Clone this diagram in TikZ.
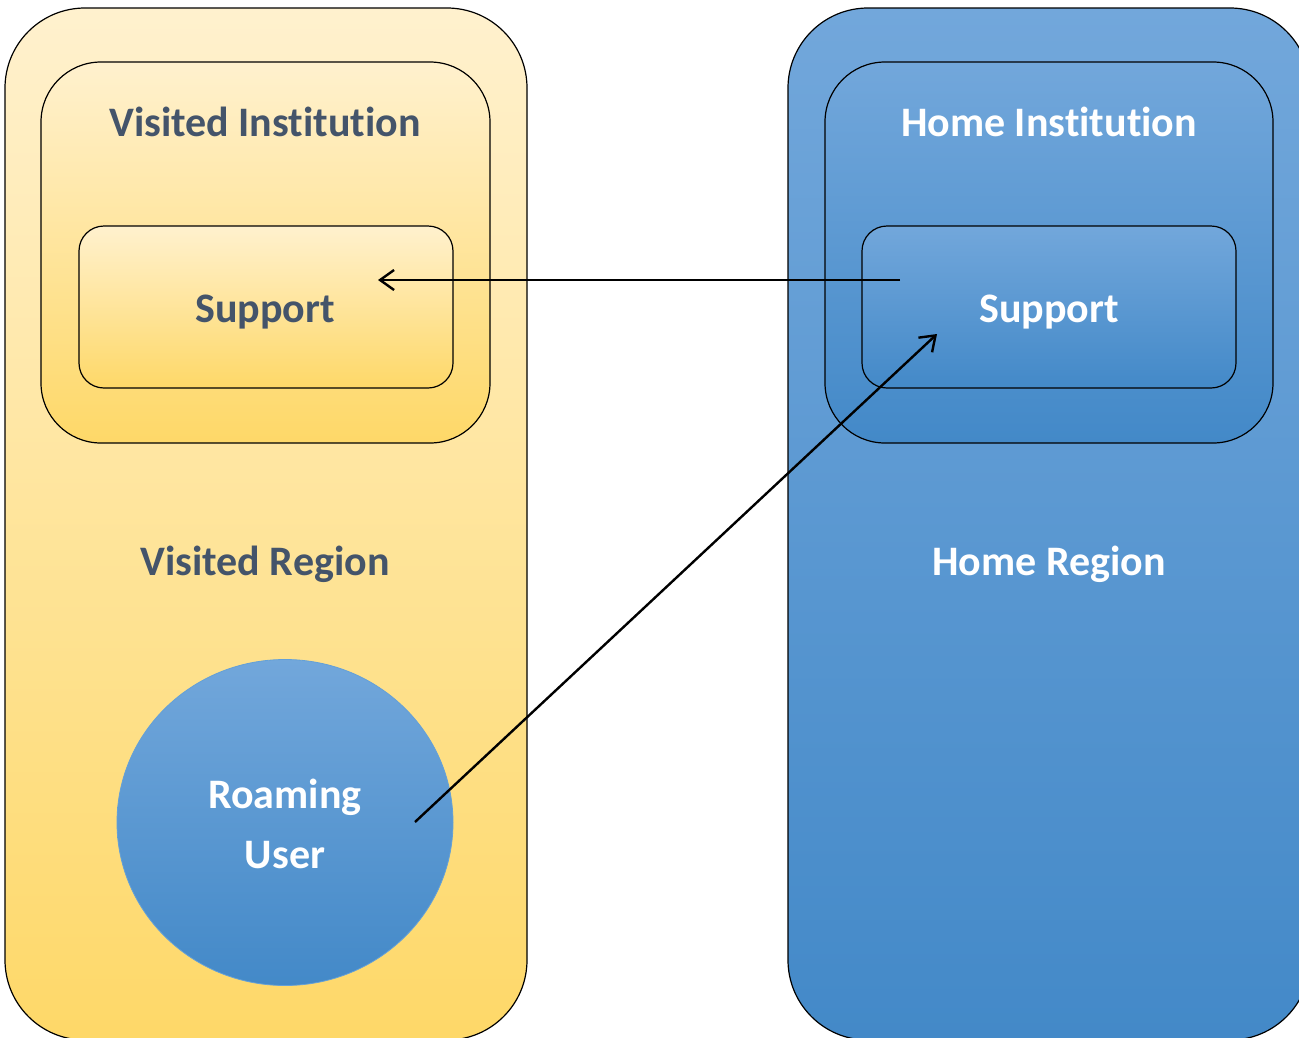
\documentclass[tikz,border=0pt]{standalone}
\usepackage{fontspec}
\setmainfont{Carlito}[Ligatures=NoCommon]
\usetikzlibrary{arrows.meta,shapes.geometric}
\definecolor{ylight}{RGB}{255,241,206}
\definecolor{ydark}{RGB}{254,216,104}
\definecolor{blight}{RGB}{114,167,219}
\definecolor{bdark}{RGB}{67,137,200}
\definecolor{txtdark}{RGB}{68,84,106}
\definecolor{circline}{RGB}{100,160,215}
\begin{document}
\begin{tikzpicture}[x=1pt,y=-1pt,
  ybox/.style={draw=black, line width=1.2pt, top color=ylight, bottom color=ydark, inner sep=0pt},
  bbox/.style={draw=black, line width=1.2pt, top color=blight, bottom color=bdark, inner sep=0pt},
  lbl/.style={font=\fontsize{42}{48}\selectfont\bfseries, inner sep=0pt, align=center},
  darklbl/.style={lbl, text=txtdark},
  whitelbl/.style={lbl, text=white},
  conn/.style={draw=black, line width=2.4pt, -{Straight Barb[length=14pt,width=20pt]}}
]
\useasboundingbox (0,0) rectangle (1299,1037);
\clip (0,0) rectangle (1299,1037);
% regions
\node[ybox, rounded corners=80pt, minimum width=522pt, minimum height=1032pt] (vregion) at (266,524) {};
\node[bbox, rounded corners=80pt, minimum width=522pt, minimum height=1032pt] (hregion) at (1049,524) {};
% institutions
\node[ybox, rounded corners=60pt, minimum width=449pt, minimum height=381pt] (vinst) at (265.5,252.5) {};
\node[bbox, rounded corners=60pt, minimum width=448pt, minimum height=381pt] (hinst) at (1049,252.5) {};
% support boxes
\node[ybox, rounded corners=25pt, minimum width=374pt, minimum height=162pt] (vsup) at (266,307) {};
\node[bbox, rounded corners=25pt, minimum width=374pt, minimum height=162pt] (hsup) at (1049,307) {};
% user
\node[ellipse, draw=circline, line width=0.8pt, top color=blight, bottom color=bdark, minimum width=336pt, minimum height=326pt, inner sep=0pt] (user) at (285,822.5) {};
% labels
\node[darklbl] (vinstl) at (265,122) {Visited Institution};
\node[darklbl] (vsupl) at (265,312) {Support};
\node[darklbl] (vregl) at (265,564) {Visited Region};
\node[whitelbl] (hinstl) at (1049,122) {Home Institution};
\node[whitelbl] (hsupl) at (1049,312) {Support};
\node[whitelbl] (hregl) at (1049,564) {Home Region};
\node[whitelbl] (roam) at (285,797) {Roaming};
\node[whitelbl] (usr) at (285,855) {User};
% connectors
\coordinate (a1s) at (900,280);
\coordinate (a1e) at (378,280);
\coordinate (a2s) at (415,822);
\coordinate (a2e) at (937,334);
\draw[conn] (a1s) -- (a1e);
\draw[conn] (a2s) -- (a2e);
\end{tikzpicture}
\end{document}
